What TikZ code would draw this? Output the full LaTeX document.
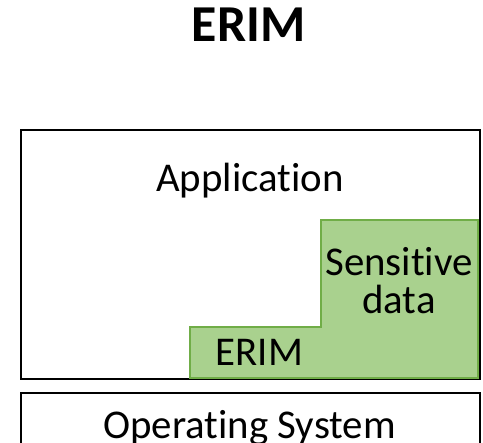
\documentclass[tikz,border=0pt]{standalone}
\usepackage{fontspec}
\setmainfont[Ligatures=NoCommon]{Carlito}
\definecolor{greenfill}{HTML}{A9D18E}
\definecolor{greenline}{HTML}{70AD47}
\begin{document}
\begin{tikzpicture}[x=1bp,y=-1bp,
  boxstyle/.style={draw=black,line width=2.2bp},
  label/.style={font=\fontsize{41}{41}\selectfont,anchor=base,inner sep=0pt},
  titlestyle/.style={font=\fontsize{52}{52}\selectfont\bfseries,anchor=base,inner sep=0pt}]
\useasboundingbox (0,0) rectangle (483,443);
\begin{scope}
\clip (0,0) rectangle (483,443);
\draw[boxstyle] (21,130) rectangle (480,379);
\fill[greenfill,draw=greenline,line width=1.5bp] (190,378) -- (190,327) -- (321,327) -- (321,220) -- (478,220) -- (478,378) -- cycle;
\draw[boxstyle] (21,393) rectangle (480,460);
\end{scope}
\node[titlestyle] (title) at (248.5,42) {ERIM};
\node[label] (app) at (250,192) {Application};
\node[label] (sens) at (399,275) {Sensitive};
\node[label] (data) at (399,313) {data};
\node[label] (erim) at (259.5,365) {ERIM};
\node[label] (os) at (249.5,438) {Operating System};
\end{tikzpicture}
\end{document}
